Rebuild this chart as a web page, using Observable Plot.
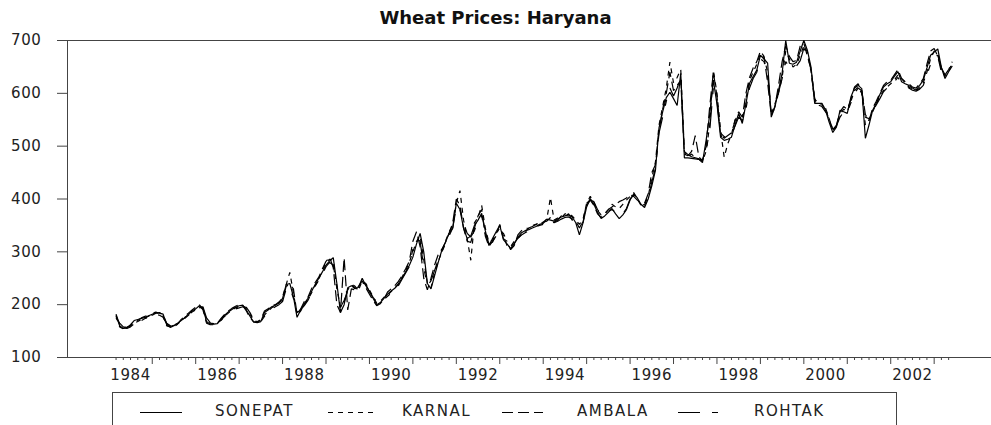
<!DOCTYPE html>
<html><head><meta charset="utf-8">
<script src="https://cdn.jsdelivr.net/npm/d3@7"></script>
<script src="https://cdn.jsdelivr.net/npm/@observablehq/plot@0.6"></script>
<style>
html,body{margin:0;padding:0;background:#fff;overflow:hidden;}
#title{height:28px;padding-top:4px;line-height:28px;text-align:center;font-family:"DejaVu Sans";font-weight:bold;font-size:18px;color:#111;}
#legend{margin-left:112px;width:785px;height:40px;border:1px solid #444;border-bottom:none;box-sizing:border-box;}
</style></head><body>
<div id="title">Wheat Prices: Haryana</div>
<div id="chart"></div>
<div id="legend"></div>
<script>
// Monthly wholesale wheat prices, March 1984 – June 2003
const startYear = 1984, startMonth = 3;
const names = ["SONEPAT", "KARNAL", "AMBALA", "ROHTAK"];
const yTicks = [100, 200, 300, 400, 500, 600, 700];
const xLabelYears = [1984, 1986, 1988, 1990, 1992, 1994, 1996, 1998, 2000, 2002];

const sonepat = [
  180,160,155,156,162,170,172,174,176,179,
  182,185,184,182,162,157,160,165,170,175,182,188,
  192,198,194,168,163,163,164,172,180,186,191,195,
  198,199,190,178,167,166,168,185,190,196,199,203,
  212,238,240,215,176,190,202,212,225,238,250,262,
  275,283,289,240,185,200,232,236,230,233,250,236,
  225,212,200,204,212,220,226,231,240,250,262,274,
  290,315,335,300,240,230,255,280,303,318,335,345,
  392,380,345,325,330,350,360,373,340,312,325,338,
  350,323,315,306,315,328,336,340,342,345,348,352,
  354,362,360,358,362,366,368,370,366,355,332,355,
  385,401,390,375,363,368,375,382,372,363,370,380,
  398,410,402,390,384,400,425,454,535,565,592,602,
  590,577,638,478,478,477,476,475,469,511,560,625,
  580,517,511,513,517,540,562,543,580,619,632,644,
  672,665,657,555,574,605,638,700,657,655,659,680,
  700,681,649,581,581,581,568,545,526,536,568,565,
  562,593,610,615,609,515,540,568,581,598,612,618,
  622,632,641,622,618,615,610,606,615,625,648,672,
  678,684,649,628,641,652
];
const karnal = [
  178,158,154,158,160,165,168,172,175,178,
  184,186,182,178,160,158,162,164,168,176,180,186,
  190,196,192,172,165,164,166,170,178,184,190,194,
  196,198,192,182,170,168,170,180,188,194,198,204,
  215,238,261,222,180,188,200,210,222,236,248,265,
  280,286,284,230,195,205,228,238,232,228,245,240,
  228,215,203,206,214,218,225,232,238,252,265,280,
  300,320,330,285,240,232,260,282,300,320,338,350,
  392,416,360,325,284,355,365,388,345,318,322,335,
  345,330,312,310,320,325,333,338,345,350,352,355,
  356,362,403,360,364,364,372,372,368,360,352,362,
  392,405,394,378,370,372,380,390,385,382,390,398,
  405,412,400,388,390,405,440,470,540,575,610,659,
  620,630,645,490,480,485,478,475,472,490,540,644,
  600,530,479,505,522,550,558,548,590,625,640,655,
  675,668,640,560,580,600,630,680,665,650,655,672,
  690,678,640,585,580,578,570,550,530,538,560,570,
  565,585,605,612,600,540,550,565,580,595,605,612,
  618,625,635,628,620,612,608,605,610,620,640,665,
  680,675,645,632,640,660
];
const ambala = [
  182,162,157,155,158,164,170,175,178,180,
  180,184,185,180,165,160,158,163,172,178,184,190,
  195,200,190,165,162,162,165,174,182,188,193,197,
  200,198,188,175,168,167,172,188,192,198,200,205,
  208,235,238,230,182,192,206,214,230,242,252,268,
  282,290,270,200,185,289,190,230,228,235,245,232,
  220,208,198,202,210,224,230,236,244,255,268,282,
  320,338,310,250,228,250,275,295,305,318,335,355,
  400,388,345,320,318,345,368,380,330,310,320,330,
  352,325,320,304,312,332,340,344,345,348,352,354,
  356,358,365,356,360,368,366,372,360,358,345,358,
  392,398,388,372,365,372,380,385,390,395,398,402,
  408,405,398,392,392,410,450,465,530,570,600,640,
  605,615,625,485,482,490,520,480,472,500,575,640,
  595,522,515,520,525,548,565,555,600,630,648,660,
  680,670,620,558,575,615,660,690,670,660,662,690,
  695,670,645,590,578,575,565,552,530,540,565,575,
  570,588,612,618,605,560,548,572,585,600,615,622,
  625,635,645,628,622,618,612,610,618,628,655,680,
  685,670,640,635,645,660
];
const rohtak = [
  175,165,158,157,160,168,164,170,174,176,
  180,182,180,176,164,159,161,166,171,174,180,185,
  188,194,196,175,166,165,166,171,178,183,188,192,
  194,196,195,185,172,168,168,178,186,192,196,200,
  206,230,232,212,185,190,198,208,222,235,246,258,
  272,280,275,235,195,208,225,240,235,226,242,238,
  225,214,205,205,210,216,222,228,236,248,260,272,
  305,325,320,270,236,245,265,285,300,315,330,345,
  385,380,355,335,328,340,360,368,335,315,318,332,
  342,335,320,310,316,326,332,336,340,342,348,350,
  352,358,360,355,358,362,365,366,362,358,350,356,
  388,398,395,380,372,375,378,380,375,370,372,382,
  400,408,404,392,388,402,432,458,525,555,585,610,
  595,610,630,490,484,480,478,476,474,492,530,610,
  585,525,518,515,522,538,555,548,570,610,628,640,
  665,660,635,565,570,602,628,660,650,648,652,662,
  685,675,645,588,584,580,572,552,532,538,555,565,
  564,582,600,610,605,555,552,566,578,590,603,610,
  615,622,630,620,615,610,606,604,608,615,635,655,
  670,672,648,635,638,648
];

// ---- styling / layout (not data) ----
const seriesValues = [sonepat, karnal, ambala, rohtak];
const dashes = [null, "5,5", "11,5", "22,12,6,12"];
const xDomain = [1983.049, 2004.32];
const yDomain = [yTicks[0], yTicks[yTicks.length - 1]];

const monthOffset = i => startMonth - 1 + i;
const tOf = i => startYear + monthOffset(i) / 12;
const rows = seriesValues.map(vals => vals.map((v, i) => ({t: tOf(i), v})));
const n = sonepat.length;
const idx = d3.range(n);
const majorTicks = idx.filter(i => monthOffset(i) % 12 === 0).map(tOf);
const minorTicks = idx.filter(i => monthOffset(i) % 2 === 0 && monthOffset(i) % 12 !== 0).map(tOf);

const chart = Plot.plot({
  width: 991, height: 360,
  marginLeft: 67, marginRight: 0, marginTop: 8, marginBottom: 35,
  style: {fontFamily: "DejaVu Sans", fontSize: "15px", color: "#222", background: "#fff", letterSpacing: "0.6px", display: "block", maxWidth: "none", overflow: "visible"},
  x: {type: "linear", domain: xDomain},
  y: {domain: yDomain},
  marks: [
    Plot.ruleY(yDomain, {stroke: "#444"}),
    Plot.ruleX([xDomain[0]], {stroke: "#444"}),
    Plot.axisY({ticks: yTicks, tickSize: 10, tickPadding: 16, label: null, tickFormat: d => String(d), stroke: "#444"}),
    Plot.axisX({ticks: majorTicks, tickSize: 7, label: null, tickFormat: () => "", stroke: "#444"}),
    Plot.axisX({ticks: minorTicks, tickSize: 3, label: null, tickFormat: () => "", stroke: "#444"}),
    Plot.axisX({ticks: xLabelYears.map(y => y + 0.5), tickSize: 0, tickPadding: 12, label: null, tickFormat: d => String(Math.floor(d))}),
    ...rows.map((r, k) => Plot.line(r, {x: "t", y: "v", stroke: "#000", strokeWidth: 1.2, strokeLinecap: "butt", strokeLinejoin: "miter", strokeDasharray: dashes[k]}))
  ]
});
document.getElementById("chart").appendChild(chart);

// legend
const legendLayout = [
  {x1: 27, x2: 69, tx: 102},
  {x1: 215, x2: 260, tx: 289},
  {x1: 389, x2: 430, tx: 464},
  {x1: 565, x2: 606, tx: 641}
];
const lg = d3.select("#legend").append("svg").attr("width", 783).attr("height", 38).style("display", "block");
names.forEach((nm, k) => {
  const L = legendLayout[k];
  lg.append("line").attr("x1", L.x1).attr("x2", L.x2).attr("y1", 19.5).attr("y2", 19.5)
    .attr("stroke", "#000").attr("stroke-width", 1.2).attr("stroke-dasharray", dashes[k]);
  lg.append("text").attr("x", L.tx).attr("y", 18).attr("dy", "0.36em").text(nm)
    .style("font-family", "DejaVu Sans").style("font-size", "15px").style("letter-spacing", "1.5px").attr("fill", "#222");
});
</script>
</body></html>
